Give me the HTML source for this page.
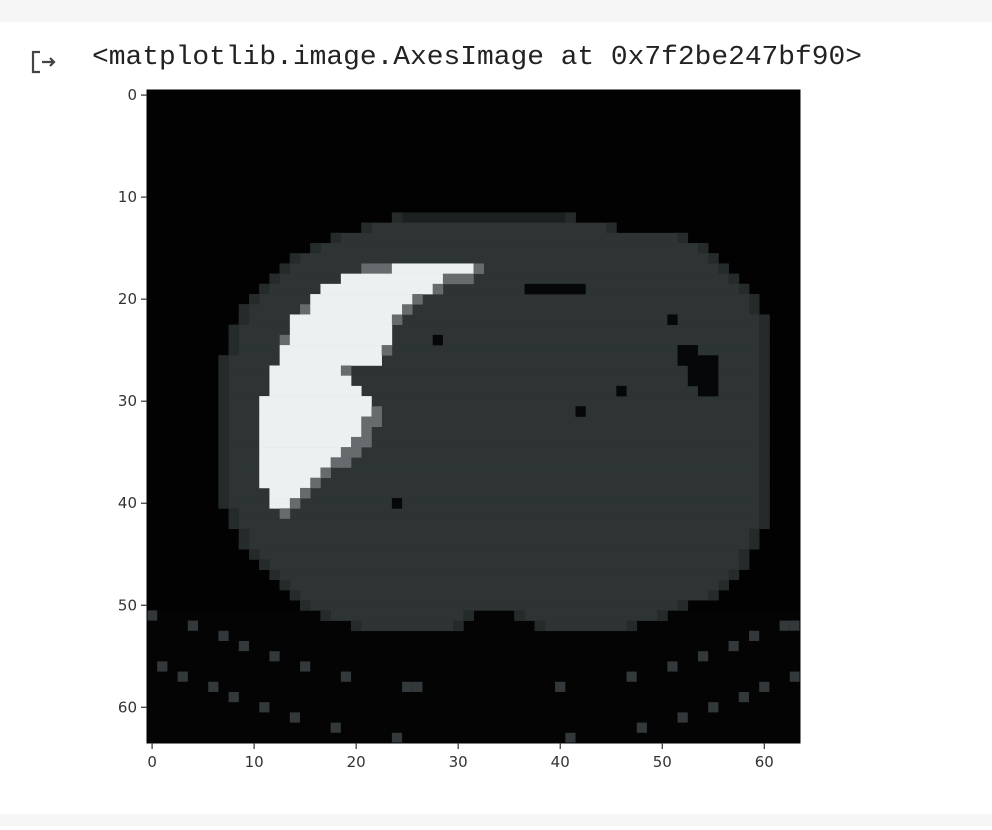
<!DOCTYPE html>
<html><head><meta charset="utf-8"><style>
body{margin:0;background:#fff;width:992px;height:826px;overflow:hidden;font-family:"DejaVu Sans","Liberation Sans",sans-serif}
</style></head><body>
<svg id="fig" width="992" height="826" viewBox="0 0 992 826" xmlns="http://www.w3.org/2000/svg">
<rect x="0" y="0" width="992" height="22" fill="#f6f6f6"/>
<rect x="0" y="814" width="992" height="12" fill="#f6f6f6"/>
<g fill="none" stroke="#444" stroke-width="2.2">
<path d="M40 52 H33 V72 H40"/><path d="M42 62 H54 M50 58 L54 62 L50 66"/>
</g>
<text x="92" y="64" font-family="'Liberation Mono',monospace" font-size="27" textLength="770" lengthAdjust="spacingAndGlyphs" fill="#222">&lt;matplotlib.image.AxesImage at 0x7f2be247bf90&gt;</text>
<g id="img"></g>
<g id="axes"></g>
</svg>
<script>
// body extent per row: [row, left, right]
const bodyRows=[[12,24,41],[13,21,45],[14,18,52],[15,16,54],[16,14,55],[17,13,56],[18,12,57],[19,11,58],[20,10,59],[21,9,59],[22,9,60],[23,8,60],[24,8,60],[25,8,60],[26,7,60],[27,7,60],[28,7,60],[29,7,60],[30,7,60],[31,7,60],[32,7,60],[33,7,60],[34,7,60],[35,7,60],[36,7,60],[37,7,60],[38,7,60],[39,7,60],[40,7,60],[41,8,60],[42,8,60],[43,9,59],[44,9,59],[45,10,58],[46,11,58],[47,12,57],[48,13,56],[49,14,55],[50,15,52],[51,17,31],[51,36,50],[52,20,30],[52,38,47]];
// liver segments: [row, start, end, kind] kind w=white g=gray
const liverSegs=[[17,21,23,'g'],[17,24,31,'w'],[17,32,32,'g'],[18,19,28,'w'],[18,29,31,'g'],[19,17,27,'w'],[19,28,28,'g'],[20,16,25,'w'],[20,26,26,'g'],[21,15,15,'g'],[21,16,24,'w'],[21,25,25,'g'],[22,14,23,'w'],[22,24,24,'g'],[23,14,23,'w'],[24,13,13,'g'],[24,14,23,'w'],[25,13,22,'w'],[25,23,23,'g'],[26,13,22,'w'],[27,12,18,'w'],[27,19,19,'g'],[28,12,19,'w'],[29,12,20,'w'],[30,11,21,'w'],[31,11,21,'w'],[31,22,22,'g'],[32,11,20,'w'],[32,21,22,'g'],[33,11,20,'w'],[33,21,21,'g'],[34,11,19,'w'],[34,20,21,'g'],[35,11,18,'w'],[35,19,20,'g'],[36,11,17,'w'],[36,18,19,'g'],[37,11,16,'w'],[37,17,17,'g'],[38,11,15,'w'],[38,16,16,'g'],[39,12,14,'w'],[39,15,15,'g'],[40,12,13,'w'],[40,14,14,'g'],[41,13,13,'g']];
// dark holes: [row, start, end]
const holes=[[19,37,42],[25,52,53],[26,52,55],[27,53,55],[28,53,55],[29,54,55],[24,28,28],[22,51,51],[31,42,42],[29,46,46],[40,24,24]];
// light noise dots below body: [row, col]
const dots=[[51,0],[52,4],[53,7],[54,9],[55,12],[56,15],[57,19],[56,1],[57,3],[58,6],[59,8],[60,11],[61,14],[62,18],[63,24],[58,25],[58,26],[58,40],[63,41],[57,47],[62,48],[56,51],[61,52],[55,54],[60,55],[54,57],[59,58],[53,59],[58,60],[52,62],[52,63],[57,63]];
// y/x tick labels
const yTicks=[0,10,20,30,40,50,60];
const xTicks=[0,10,20,30,40,50,60];

const X0=147,Y0=90,C=653/64;
const cx=c=>X0+c*C, cy=r=>Y0+r*C;
const NS='http://www.w3.org/2000/svg';
const img=document.getElementById('img');
function rect(x,y,w,h,f){const e=document.createElementNS(NS,'rect');e.setAttribute('x',x);e.setAttribute('y',y);e.setAttribute('width',w);e.setAttribute('height',h);e.setAttribute('fill',f);return e;}
let bg=rect(X0,Y0,653,653,'#020202');


img.appendChild(bg);
let nb=rect(X0,cy(51),653,cy(64)-cy(51),'#040405');


img.appendChild(nb);
bodyRows.forEach(([r,l,rt])=>{
  const e=rect(cx(l),cy(r),cx(rt+1)-cx(l)+0.3,C+0.3,r===12?'#1c2021':'#2e3434');
  
  
  img.appendChild(e);
  [l,rt].forEach(c=>{const d=rect(cx(c),cy(r),C+0.3,C+0.3,'#252a2b');
  
  
  img.appendChild(d);});
});
holes.forEach(([r,s,e2])=>{
  const e=rect(cx(s),cy(r),cx(e2+1)-cx(s),C+0.3,'#060708');
  
  
  img.appendChild(e);
});
liverSegs.forEach(([r,s,e2,k])=>{
  const e=rect(cx(s),cy(r),cx(e2+1)-cx(s)+0.3,C+0.3,k==='w'?'#ebf0f0':'#676b6d');
  
  
  img.appendChild(e);
});
dots.forEach(([r,c])=>{
  const e=rect(cx(c),cy(r),C,C,'#33383a');
  
  
  img.appendChild(e);
});
const ax=document.getElementById('axes');
const fr=rect(X0,Y0,653,653,'none');fr.setAttribute('stroke','#000');fr.setAttribute('stroke-width','1');


ax.appendChild(fr);
function line(x1,y1,x2,y2){const e=document.createElementNS(NS,'line');e.setAttribute('x1',x1);e.setAttribute('y1',y1);e.setAttribute('x2',x2);e.setAttribute('y2',y2);e.setAttribute('stroke','#333');e.setAttribute('stroke-width','1.2');return e;}
function txt(x,y,s,a){const e=document.createElementNS(NS,'text');e.setAttribute('x',x);e.setAttribute('y',y);e.setAttribute('text-anchor',a);e.setAttribute('font-size','15');e.setAttribute('fill','#333');e.textContent=s;return e;}
yTicks.forEach(v=>{
  const y=cy(v+0.5);
  const t=line(X0-6,y,X0,y);
  
  
  ax.appendChild(t);
  const l=txt(X0-10,y+5,String(v),'end');
  
  
  ax.appendChild(l);
});
xTicks.forEach(v=>{
  const x=cx(v+0.5);
  const t=line(x,Y0+653,x,Y0+659);
  
  
  ax.appendChild(t);
  const l=txt(x,Y0+677,String(v),'middle');
  
  
  ax.appendChild(l);
});
</script>
</body></html>
